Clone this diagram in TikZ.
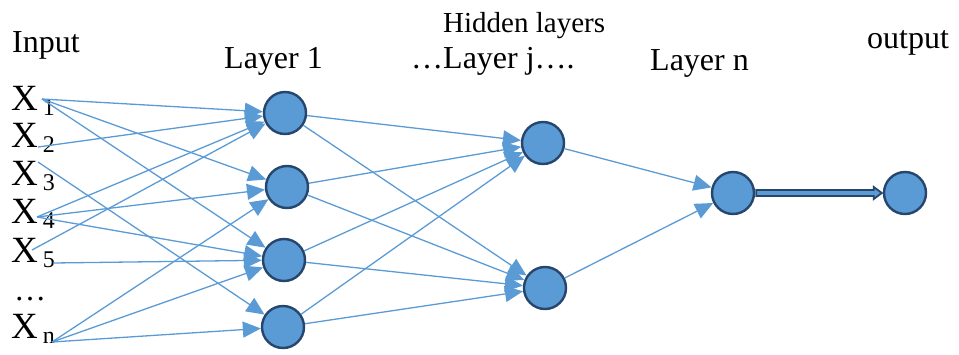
\documentclass[tikz,border=0pt]{standalone}
\usepackage{fontspec}
\setmainfont{Liberation Serif}
\usetikzlibrary{arrows.meta,calc}
\definecolor{wireblue}{RGB}{91,155,213}
\definecolor{cellfill}{RGB}{91,155,213}
\definecolor{cellrim}{RGB}{38,70,110}
\newcommand\xsub[1]{\hspace{5pt}\raisebox{-5pt}{\fontsize{24}{24}\selectfont #1}}
\begin{document}
\begin{tikzpicture}[x=1pt,y=-1pt,
  neuron/.style={circle,fill=cellfill,draw=cellrim,line width=2.4pt,minimum size=42pt,inner sep=0pt},
  link/.style={draw=wireblue,line width=1.3pt,-{Triangle[length=18pt,width=16pt]}},
  lbl/.style={font=\fontsize{32}{32}\selectfont,anchor=base west,inner sep=0pt},
  inlbl/.style={font=\fontsize{37}{37}\selectfont,anchor=base west,inner sep=0pt}]
\useasboundingbox (0,0) rectangle (959,354);

% headings
\node[lbl] (tin) at (12,52) {Input};
\node[lbl,font=\fontsize{29}{29}\selectfont] (thid) at (443,32) {Hidden layers};
\node[lbl] (tl1) at (224,68) {Layer 1};
\node[lbl] (tlj) at (411,68) {…Layer j….};
\node[lbl] (tln) at (650,70) {Layer n};
\node[lbl] (tout) at (867,48) {output};

% input labels
\node[inlbl] (x1) at (11,110) {X\xsub{1}};
\node[inlbl] (x2) at (11,147) {X\xsub{2}};
\node[inlbl] (x3) at (11,185) {X\xsub{3}};
\node[inlbl] (x4) at (11,223) {X\xsub{4}};
\node[inlbl] (x5) at (11,262) {X\xsub{5}};
\node[lbl] (xd) at (14,300) {…};
\node[inlbl] (xn) at (11,338) {X\xsub{n}};

% where the input wires leave the labels
\coordinate (o1) at (42,99);
\coordinate (o2) at (38,147);
\coordinate (o3) at (38,162);
\coordinate (o4) at (37,217);
\coordinate (o5a) at (32,250);
\coordinate (o5b) at (53,263);
\coordinate (on) at (52,342);

% neurons
\node[neuron] (a1) at (285,113) {};
\node[neuron] (a2) at (287,187) {};
\node[neuron] (a3) at (284,260) {};
\node[neuron] (a4) at (283,327) {};
\node[neuron] (b1) at (543,143) {};
\node[neuron] (b2) at (545,288) {};
\node[neuron] (c) at (733,193) {};
\node[neuron] (out) at (905,193) {};

% input -> layer 1
\draw[link] (o1) -- (a1);
\draw[link] (o1) -- (a2);
\draw[link] (o1) -- (a3);
\draw[link] (o2) -- (a1);
\draw[link] (o3) -- (a4);
\draw[link] (o4) -- (a1);
\draw[link] (o4) -- (a2);
\draw[link] (o4) -- (a3);
\draw[link] (o5a) -- (a1);
\draw[link] (o5b) -- (a3);
\draw[link] (on) -- (a2);
\draw[link] (on) -- (a3);
\draw[link] (on) -- (a4);

% layer 1 -> layer j
\foreach \s in {a1,a2,a3,a4}{
  \draw[link] (\s) -- (b1);
  \draw[link] (\s) -- (b2);
}

% layer j -> layer n
\draw[link] (b1) -- (c);
\draw[link] (b2) -- (c);

% layer n -> output (hollow double arrow)
\draw[fill=cellfill,draw=cellrim,line width=1.8pt,line join=miter]
  ($(c.east)+(1,-3)$) -- ($(out.west)+(-9,-3)$) -- ($(out.west)+(-9,-6)$)
  -- ($(out.west)+(-1,0)$) -- ($(out.west)+(-9,6)$) -- ($(out.west)+(-9,3)$)
  -- ($(c.east)+(1,3)$) -- cycle;
\end{tikzpicture}
\end{document}
